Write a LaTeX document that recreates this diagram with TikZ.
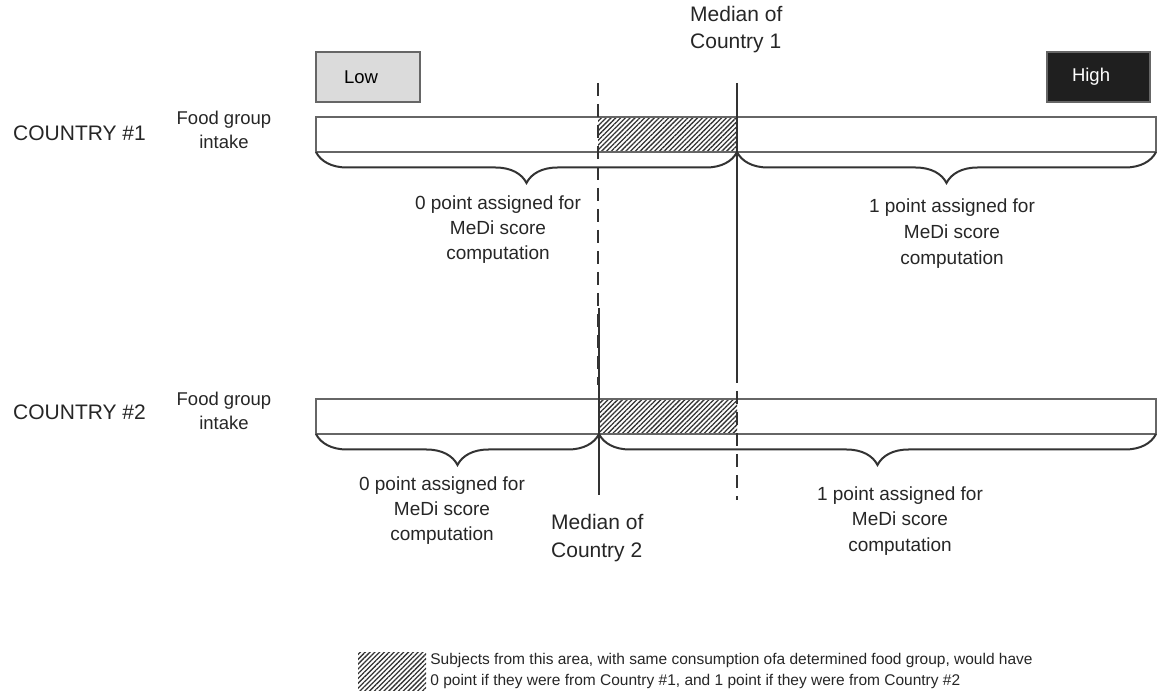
\documentclass[tikz,border=0pt]{standalone}
\usepackage{fontspec}
\setmainfont{Liberation Sans}
\usetikzlibrary{positioning,decorations.pathreplacing,patterns.meta}

\begin{document}
\begin{tikzpicture}[x=1pt,y=-1pt,
	bar/.style={draw=black!60,line width=1.3pt},
	hatch/.style={pattern={Lines[angle=45,distance=3.4pt,line width=1.3pt]},pattern color=black!80},
	median/.style={black!80,line width=2pt},
	othermedian/.style={black!80,line width=2.6pt,dash pattern=on 13pt off 8pt},
	curly/.style={black!80,line width=2pt,decorate,decoration={brace,mirror,amplitude=31pt}},
	country/.style={anchor=base west,inner sep=0pt,text=black!85,font=\fontsize{21}{25}\selectfont},
	intake/.style={anchor=base,align=center,inner sep=0pt,text=black!85,font=\fontsize{18.5}{24}\selectfont},
	points/.style={anchor=base,align=center,inner sep=0pt,text=black!85,font=\fontsize{19}{25}\selectfont},
	medtxt/.style={anchor=base west,align=left,inner sep=0pt,text=black!85,font=\fontsize{21}{26.5}\selectfont},
	scalebox/.style={draw=black!60,line width=1.2pt,minimum height=50pt,align=left,font=\fontsize{18.5}{22}\selectfont},
	legend/.style={align=left,inner sep=0pt,text=black!85,font=\fontsize{15.5}{21}\selectfont},
]

\useasboundingbox (0,0) rectangle (1157,700);

\def\barleft{316}
\def\barright{1156}
\def\hei{35}
\def\rowa{117}
\def\rowb{399}

% \foodbar{top}{hatch from}{hatch to}
\newcommand*{\foodbar}[3]{
	\fill [hatch] (#2,#1) rectangle (#3,#1+\hei);
	\draw [bar] (\barleft,#1) rectangle (\barright,#1+\hei);
}

	\node [scalebox,fill=black!14,inner xsep=28pt,text width=48pt] (low) at (368,77) {Low};
	\node [scalebox,fill=black!88,text=white,inner xsep=25pt,text width=53pt] (high) at (1098.5,77) {High};

	% country 1 (multi-line nodes sit on their last line)
	\node [country] (c1) at (13,141) {COUNTRY \#1};
	\node [intake] (f1) at (224,149) {Food group\\intake};
	\foodbar{\rowa}{598}{737}
	\draw [othermedian] (598,83) -- (598,385);
	\draw [median] (737,83) -- (737,377);
	\node [medtxt] (m1) at (690,48.5) {Median of\\Country 1};

	\coordinate (a0) at (\barleft,\rowa+\hei);
	\coordinate (a1) at (737,\rowa+\hei);
	\coordinate (a2) at (\barright,\rowa+\hei);
	\draw [curly] (a0) -- (a1);
	\draw [curly] (a1) -- (a2);
	\node [points] (p1a) at (498,260) {0 point assigned for\\MeDi score\\computation};
	\node [points,font=\fontsize{19}{26}\selectfont] (p1b) at (952,265) {1 point assigned for\\MeDi score\\computation};

	% country 2
	\node [country] (c2) at (13,420) {COUNTRY \#2};
	\node [intake] (f2) at (224,430) {Food group\\intake};
	\foodbar{\rowb}{599}{737}
	\draw [median] (599,308) -- (599,495);
	\draw [othermedian] (737,307) -- (737,500);
	\node [medtxt,font=\fontsize{21}{28}\selectfont] (m2) at (551,557) {Median of\\Country 2};

	\coordinate (b0) at (\barleft,\rowb+\hei);
	\coordinate (b1) at (599,\rowb+\hei);
	\coordinate (b2) at (\barright,\rowb+\hei);
	\draw [curly] (b0) -- (b1);
	\draw [curly] (b1) -- (b2);
	\node [points] (p2a) at (442,540) {0 point assigned for\\MeDi score\\computation};
	\node [points,font=\fontsize{19}{25.5}\selectfont] (p2b) at (900,551) {1 point assigned for\\MeDi score\\computation};

	% legend
	\node [hatch,minimum width=68pt,minimum height=38pt,inner sep=0pt] (legbox) at (392,671) {};
	\node [legend,right=4pt of legbox] (legtxt) {Subjects from this area, with same consumption ofa determined food group, would have\\0 point if they were from Country \#1, and 1 point if they were from Country \#2};

\end{tikzpicture}
\end{document}
